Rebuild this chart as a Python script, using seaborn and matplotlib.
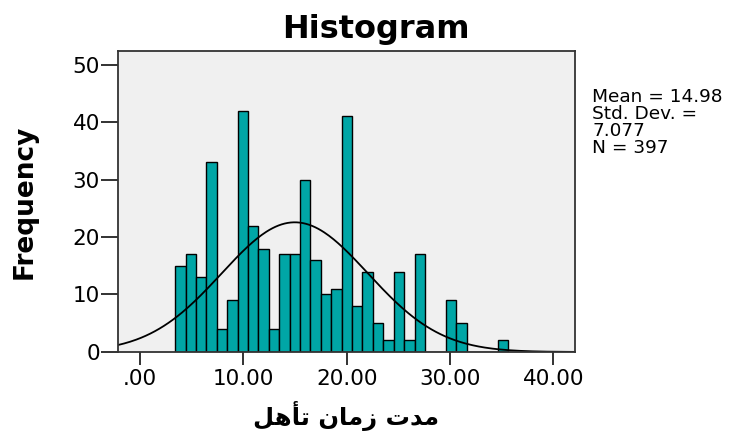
import numpy as np
import pandas as pd
import matplotlib
matplotlib.use("Agg")
import matplotlib.pyplot as plt
import seaborn as sns

# histogram counts (bins of ~1 unit starting at ~3.4)
bin_start = 3.39
bin_width = 1.008
counts = [15, 17, 13, 33, 4, 9, 42, 22, 18, 4, 17, 17, 30, 16, 10, 11,
          41, 8, 14, 5, 2, 14, 2, 17, 0, 0, 9, 5, 0, 0, 0, 2]

# summary stats printed by SPSS
mean_val = 14.98
std_val = 7.077
n_val = 397

x_ticks = [0, 10, 20, 30, 40]
x_tick_labels = [".00", "10.00", "20.00", "30.00", "40.00"]
y_ticks = [0, 10, 20, 30, 40, 50]

title = "Histogram"
y_label = "Frequency"
# "مدت زمان تأهل" written in joined presentation forms, visual order
x_label = ("\ufede\ufeeb\ufe84\ufe97 "
           "\ufee5\ufe8e\ufee3\ufeaf "
           "\ufe95\ufeaa\ufee3")

bar_color = "#00A6A6"


def main():
    sns.set_theme(style="white")
    plt.rcParams["font.family"] = ["DejaVu Sans"]
    plt.rcParams["text.color"] = "black"
    plt.rcParams["axes.labelcolor"] = "black"

    edges = bin_start + bin_width * np.arange(len(counts) + 1)
    df = pd.DataFrame({"value": (edges[:-1] + edges[1:]) / 2,
                       "count": counts})

    fig = plt.figure(figsize=(7.38, 4.34), dpi=100)
    ax = fig.add_axes([0.160, 0.189, 0.619, 0.694])
    ax.set_facecolor("#F0F0F0")

    sns.histplot(data=df, x="value", weights="count", bins=edges.tolist(),
                 color=bar_color, alpha=1, edgecolor="black", linewidth=1.0,
                 ax=ax)

    # normal curve scaled to counts
    xlim = (-2.13, 42.1)
    xs = np.linspace(xlim[0], xlim[1], 300)
    ys = n_val * bin_width / (std_val * np.sqrt(2 * np.pi)) * \
        np.exp(-0.5 * ((xs - mean_val) / std_val) ** 2)
    ax.plot(xs, ys, color="black", linewidth=1.3)

    ax.set_xlim(*xlim)
    ax.set_ylim(0, 52.4)
    ax.set_xticks(x_ticks)
    ax.set_xticklabels(x_tick_labels)
    ax.set_yticks(y_ticks)
    ax.tick_params(axis="x", length=9, width=1.3, pad=3, labelsize=15.5,
                   color="#222222", labelcolor="black", bottom=True)
    ax.tick_params(axis="y", length=12, width=1.3, pad=1, labelsize=15.5,
                   color="#222222", labelcolor="black", left=True)
    for s in ax.spines.values():
        s.set_color("#333333")
        s.set_linewidth(1.3)

    ax.set_xlabel(x_label, fontsize=17.5, fontweight="bold", labelpad=9)
    ax.set_ylabel(y_label, fontsize=19, fontweight="bold")
    ax.yaxis.set_label_coords(-0.177, 0.5)

    fig.text(376 / 738, 1 - 38 / 434, title, ha="center", va="baseline",
             fontsize=23, fontweight="bold")

    stats = (f"Mean = {mean_val:.2f}\nStd. Dev. =\n{std_val:.3f}\n"
             f"N = {n_val}")
    fig.text(592 / 738, 1 - 88 / 434, stats, ha="left", va="top",
             fontsize=13.3, linespacing=0.92)

    fig.savefig("out.png", dpi=100)
    plt.close(fig)


if __name__ == "__main__":
    main()
